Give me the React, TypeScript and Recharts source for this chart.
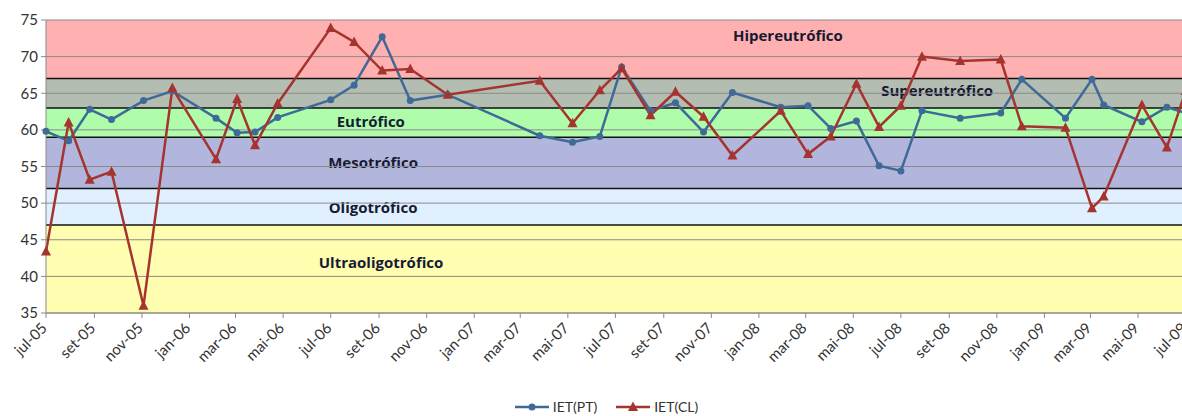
import { LineChart, Line, XAxis, YAxis, ReferenceArea, ReferenceLine } from "recharts";

// sampling dates
const DATES = [
  "2005-07-01", "2005-07-30", "2005-08-26", "2005-09-23", "2005-11-03", "2005-12-10",
  "2006-02-04", "2006-03-03", "2006-03-26", "2006-04-24", "2006-07-01", "2006-07-31",
  "2006-09-05", "2006-10-11", "2006-11-28", "2007-03-26", "2007-05-07", "2007-06-11",
  "2007-07-09", "2007-08-15", "2007-09-16", "2007-10-22", "2007-11-28", "2008-01-29",
  "2008-03-04", "2008-04-02", "2008-05-05", "2008-06-03", "2008-07-01", "2008-07-28",
  "2008-09-15", "2008-11-06", "2008-12-03", "2009-01-28", "2009-03-03", "2009-03-18",
  "2009-05-06", "2009-06-07", "2009-07-01",
];

const IET_PT = [
  59.8, 58.5, 62.8, 61.4, 64.0, 65.3,
  61.6, 59.6, 59.7, 61.7, 64.1, 66.1,
  72.7, 64.0, 64.8, 59.2, 58.3, 59.1,
  68.6, 62.6, 63.7, 59.7, 65.1, 63.1,
  63.3, 60.2, 61.2, 55.1, 54.4, 62.6,
  61.6, 62.3, 66.9, 61.6, 66.9, 63.4,
  61.1, 63.1, 62.3,
];

const IET_CL = [
  43.4, 61.0, 53.2, 54.3, 36.0, 65.7,
  56.0, 64.2, 57.9, 63.6, 73.9, 72.0,
  68.1, 68.3, 64.8, 66.7, 60.9, 65.4,
  68.4, 62.0, 65.2, 61.8, 56.5, 62.6,
  56.7, 59.1, 66.3, 60.4, 63.3, 70.0,
  69.4, 69.6, 60.5, 60.3, 49.3, 50.9,
  63.4, 57.6, 65.3,
];

const TICK_LABELS = [
  "jul-05", "set-05", "nov-05", "jan-06", "mar-06", "mai-06", "jul-06", "set-06", "nov-06",
  "jan-07", "mar-07", "mai-07", "jul-07", "set-07", "nov-07", "jan-08", "mar-08", "mai-08",
  "jul-08", "set-08", "nov-08", "jan-09", "mar-09", "mai-09", "jul-09",
];
const MONTHS = ["jan", "fev", "mar", "abr", "mai", "jun", "jul", "ago", "set", "out", "nov", "dez"];

const Y_TICKS = [35, 40, 45, 50, 55, 60, 65, 70, 75];

// trophic state classes (limits of IET)
const BAND_NAMES = ["Ultraoligotrófico", "Oligotrófico", "Mesotrófico", "Eutrófico", "Supereutrófico", "Hipereutrófico"];
const BAND_LIMITS = [35, 47, 52, 59, 63, 67, 75];

const BAND_STYLE = [
  { fill: "#FFFDB0", fx: 0.294, fy: 0.42 },
  { fill: "#E1F0FE", fx: 0.287, fy: 0.5 },
  { fill: "#B2B6DC", fx: 0.287, fy: 0.49 },
  { fill: "#AFFCAB", fx: 0.285, fy: 0.46 },
  { fill: "#B3BDB2", fx: 0.782, fy: 0.4 },
  { fill: "#FFB0B0", fx: 0.651, fy: 0.26 },
];

const BLUE = "#3F6A98";
const RED = "#A5342F";
const FONT = "Lato, 'Open Sans', sans-serif";

const toDay = (s: string) =>
  Date.UTC(+s.slice(0, 4), +s.slice(5, 7) - 1, +s.slice(8, 10)) / 86400000;

const tickDay = (lbl: string) => {
  const [m, y] = lbl.split("-");
  return Date.UTC(2000 + +y, MONTHS.indexOf(m), 1) / 86400000;
};

const TICK_DAYS = TICK_LABELS.map(tickDay);
const labelOf = (d: number) => TICK_LABELS[TICK_DAYS.indexOf(d)] ?? "";

const data = DATES.map((s, i) => ({ d: toDay(s), pt: IET_PT[i], cl: IET_CL[i] }));

function XTick(props: any) {
  const { x, y, payload } = props;
  const ax = x + 2;
  const ay = y + 9;
  return (
    <text
      x={ax}
      y={ay}
      transform={`rotate(-45 ${ax} ${ay})`}
      textAnchor="end"
      fontSize={15}
      fontFamily={FONT}
      fill="#333"
    >
      {labelOf(payload.value)}
    </text>
  );
}

function Triangle(props: any) {
  const { cx, cy } = props;
  if (cx == null || cy == null) return null;
  return <polygon points={`${cx},${cy - 5.5} ${cx - 5},${cy + 4} ${cx + 5},${cy + 4}`} fill={RED} />;
}

function BandLabel({ name, fx, fy }: { name: string; fx: number; fy: number }) {
  return (props: any) => {
    const vb = props.viewBox;
    if (!vb) return null;
    return (
      <text
        x={vb.x + vb.width * fx}
        y={vb.y + vb.height * fy}
        textAnchor="middle"
        dominantBaseline="central"
        fontSize={15}
        fontWeight={700}
        fontFamily="'Open Sans', sans-serif"
        fill="#161A33"
      >
        {name}
      </text>
    );
  };
}

export default function App() {
  return (
    <div style={{ position: "absolute", left: 0, top: 0, width: 1182, height: 416, overflow: "hidden", background: "#fff" }}>
      <LineChart width={1200} height={416} data={data} margin={{ top: 20, right: 14.4, left: 6, bottom: 43 }}>
        {BAND_NAMES.map((name, i) => (
          <ReferenceArea
            key={name}
            y1={BAND_LIMITS[i]}
            y2={BAND_LIMITS[i + 1]}
            fill={BAND_STYLE[i].fill}
            fillOpacity={1}
            stroke="none"
            label={BandLabel({ name, fx: BAND_STYLE[i].fx, fy: BAND_STYLE[i].fy })}
          />
        ))}
        {Y_TICKS.map((v) => (
          <ReferenceLine key={"g" + v} y={v} stroke="#8A8A8A" strokeWidth={1} />
        ))}
        {BAND_LIMITS.slice(1, -1).map((v) => (
          <ReferenceLine key={"b" + v} y={v} stroke="#111" strokeWidth={1.5} />
        ))}
        <XAxis
          dataKey="d"
          type="number"
          domain={[TICK_DAYS[0], TICK_DAYS[TICK_DAYS.length - 1]]}
          ticks={TICK_DAYS}
          interval={0}
          height={60}
          tick={<XTick />}
          tickSize={5}
          axisLine={{ stroke: "#8A8A8A" }}
          tickLine={{ stroke: "#8A8A8A" }}
        />
        <YAxis
          domain={[35, 75]}
          ticks={Y_TICKS}
          interval={0}
          width={40}
          tickSize={5}
          tickMargin={3}
          tick={{ fontSize: 15, fill: "#333", fontFamily: FONT }}
          axisLine={{ stroke: "#8A8A8A" }}
          tickLine={{ stroke: "#8A8A8A" }}
        />
        <Line
          dataKey="pt"
          name="IET(PT)"
          stroke={BLUE}
          strokeWidth={2.5}
          dot={{ r: 3.5, fill: BLUE, stroke: BLUE, strokeWidth: 0 }}
          isAnimationActive={false}
        />
        <Line
          dataKey="cl"
          name="IET(CL)"
          stroke={RED}
          strokeWidth={2.5}
          dot={<Triangle />}
          isAnimationActive={false}
        />
      </LineChart>
      {/* legend */}
      <div
        style={{
          position: "absolute",
          top: 398,
          left: 0,
          width: 1182,
          display: "flex",
          justifyContent: "center",
          gap: 18,
          fontFamily: FONT,
          fontSize: 14,
          color: "#333",
          paddingLeft: 30,
          boxSizing: "border-box",
        }}
      >
        <span style={{ display: "flex", alignItems: "center", gap: 3 }}>
          <svg width={36} height={12}>
            <line x1={1} y1={6} x2={35} y2={6} stroke={BLUE} strokeWidth={2.5} />
            <circle cx={18} cy={6} r={3.5} fill={BLUE} />
          </svg>
          IET(PT)
        </span>
        <span style={{ display: "flex", alignItems: "center", gap: 3 }}>
          <svg width={36} height={12}>
            <line x1={1} y1={6} x2={35} y2={6} stroke={RED} strokeWidth={2.5} />
            <polygon points="18,0.5 13,10 23,10" fill={RED} />
          </svg>
          IET(CL)
        </span>
      </div>
    </div>
  );
}
